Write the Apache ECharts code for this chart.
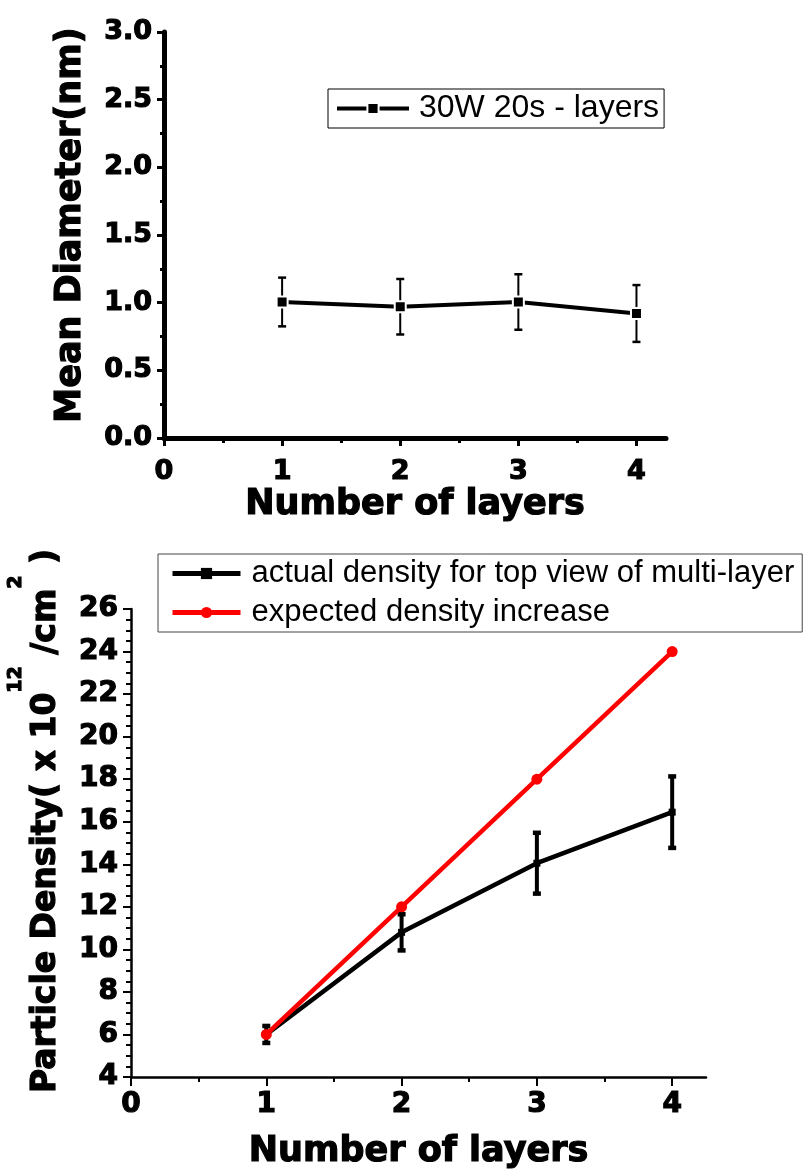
<!DOCTYPE html>
<html>
<head>
<meta charset="utf-8">
<script src="https://cdn.jsdelivr.net/npm/echarts@6/dist/echarts.min.js"></script>
<style>
  html, body { margin: 0; padding: 0; background: #fff; }
  #chart { width: 803px; height: 1173px; }
</style>
</head>
<body>
<div id="chart"></div>
<script>
// data
const layers = [1, 2, 3, 4];
const diameter = [1.005, 0.97, 1.005, 0.92];
const diameterErr = [0.18, 0.205, 0.205, 0.21];
const actualDensity = [6.0, 10.8, 14.05, 16.45];
const actualErr = [0.4, 0.85, 1.43, 1.68];
const expectedDensity = [6, 12, 18, 24];
const xTicks = [0, 1, 2, 3, 4];
const xMinorTicks = [0.5, 1.5, 2.5, 3.5];

const bold = 'DejaVu Sans';
const plain = 'Liberation Sans';
// heavy look like the original (Arial Black-ish)
const heavy = { color: '#000', fontFamily: bold, fontWeight: 'bold', textBorderColor: '#000', textBorderWidth: 1.2 };

function pairs(xs, ys) {
  return xs.map((x, i) => [x, ys[i]]);
}
function errData(xs, ys, es) {
  return xs.map((x, i) => [x, ys[i] - es[i], ys[i] + es[i]]);
}

// error bar drawer: vertical line + caps
function errorBars(capHalf, lw, capLw) {
  return function (params, api) {
    const x = api.value(0);
    const lo = api.coord([x, api.value(1)]);
    const hi = api.coord([x, api.value(2)]);
    const s = { stroke: '#000', lineWidth: lw };
    const c = { stroke: '#000', lineWidth: capLw };
    return {
      type: 'group',
      children: [
        { type: 'line', shape: { x1: lo[0], y1: lo[1], x2: hi[0], y2: hi[1] }, style: s },
        { type: 'line', shape: { x1: lo[0] - capHalf, y1: lo[1], x2: lo[0] + capHalf, y2: lo[1] }, style: c },
        { type: 'line', shape: { x1: hi[0] - capHalf, y1: hi[1], x2: hi[0] + capHalf, y2: hi[1] }, style: c }
      ]
    };
  };
}

const chart = echarts.init(document.getElementById('chart'));

const option = {
  animation: false,
  backgroundColor: '#fff',
  grid: [
    { left: 164, right: 137, top: 32, bottom: 735, outerBoundsMode: 'none' },
    { left: 131, right: 97, top: 609, bottom: 96, outerBoundsMode: 'none' }
  ],
  legend: [
    {
      data: ['30W 20s - layers'],
      left: 328, top: 89,
      padding: [2, 5, 2, 7],
      itemWidth: 72, itemHeight: 14,
      selectedMode: false,
      borderColor: '#000', borderWidth: 1,
      lineStyle: { width: 4 },
      textStyle: { fontFamily: plain, fontSize: 32, color: '#000', lineHeight: 35, padding: [0, 0, 0, 5] }
    },
    {
      data: ['actual density for top view of multi-layer', 'expected density increase'],
      orient: 'vertical',
      left: 158, top: 554,
      padding: [2, 8, 2, 12],
      itemGap: 4,
      itemWidth: 68, itemHeight: 14,
      selectedMode: false,
      borderColor: '#444', borderWidth: 1,
      lineStyle: { width: 5 },
      textStyle: { fontFamily: plain, fontSize: 31, color: '#000', lineHeight: 35, padding: [0, 0, 0, 6] }
    }
  ],
  xAxis: [
    {
      gridIndex: 0, type: 'value', min: 0, max: 4.25, position: 'bottom',
      axisLine: { show: true, onZero: false, lineStyle: { color: '#000', width: 5 } },
      axisTick: { show: true, customValues: xTicks, length: 8, lineStyle: { color: '#000', width: 3 } },
      axisLabel: Object.assign({ customValues: xTicks, fontSize: 27, margin: 20 }, heavy),
      splitLine: { show: false },
      name: 'Number of layers', nameLocation: 'middle', nameGap: 46,
      nameTextStyle: Object.assign({ fontSize: 35 }, heavy)
    },
    {
      gridIndex: 0, type: 'value', min: 0, max: 4.25, position: 'bottom',
      axisLine: { show: false, onZero: false },
      axisTick: { show: true, customValues: xMinorTicks, length: 5, lineStyle: { color: '#000', width: 3 } },
      axisLabel: { show: false },
      splitLine: { show: false }
    },
    {
      gridIndex: 1, type: 'value', min: 0, max: 4.25, position: 'bottom',
      axisLine: { show: true, onZero: false, lineStyle: { color: '#000', width: 2.5 } },
      axisTick: { show: true, customValues: xTicks, length: 9, lineStyle: { color: '#000', width: 2 } },
      axisLabel: Object.assign({ customValues: xTicks, fontSize: 28, margin: 14 }, heavy),
      splitLine: { show: false },
      name: 'Number of layers', nameLocation: 'middle', nameGap: 57,
      nameTextStyle: Object.assign({ fontSize: 35 }, heavy)
    },
    {
      gridIndex: 1, type: 'value', min: 0, max: 4.25, position: 'bottom',
      axisLine: { show: false, onZero: false },
      axisTick: { show: true, customValues: xMinorTicks, length: 5, lineStyle: { color: '#000', width: 2 } },
      axisLabel: { show: false },
      splitLine: { show: false }
    }
  ],
  yAxis: [
    {
      gridIndex: 0, type: 'value', min: 0, max: 3, interval: 0.5,
      axisLine: { show: true, onZero: false, lineStyle: { color: '#000', width: 5 } },
      axisTick: { show: true, length: 7, lineStyle: { color: '#000', width: 3 } },
      minorTick: { show: true, splitNumber: 2, length: 4, lineStyle: { color: '#000', width: 3 } },
      axisLabel: Object.assign({ fontSize: 27, margin: 12, formatter: v => v.toFixed(1) }, heavy),
      splitLine: { show: false },
      name: 'Mean Diameter(nm)', nameLocation: 'middle', nameGap: 76, nameRotate: 90,
      nameTextStyle: Object.assign({ fontSize: 35, padding: [0, 0, 0, 20] }, heavy)
    },
    {
      gridIndex: 1, type: 'value', min: 4, max: 26, interval: 2,
      axisLine: { show: true, onZero: false, lineStyle: { color: '#000', width: 2.5 } },
      axisTick: { show: true, length: 8, lineStyle: { color: '#000', width: 2 } },
      minorTick: { show: true, splitNumber: 4, length: 5, lineStyle: { color: '#000', width: 2 } },
      axisLabel: Object.assign({ fontSize: 28, margin: 13 }, heavy),
      splitLine: { show: false },
      name: '{m|Particle Density( x 10}{s|12}{m| /cm}{s|2}{m| )}',
      nameLocation: 'middle', nameGap: 68, nameRotate: 90,
      nameTextStyle: {
        color: '#000', padding: [0, 0, 0, 44],
        rich: {
          m: Object.assign({ fontSize: 33, lineHeight: 56, verticalAlign: 'bottom' }, heavy),
          s: Object.assign({ fontSize: 19, lineHeight: 22, verticalAlign: 'top', textBorderWidth: 0.8 }, heavy)
        }
      }
    }
  ],
  series: [
    {
      name: '30W 20s - layers', type: 'line',
      xAxisIndex: 0, yAxisIndex: 0,
      data: pairs(layers, diameter),
      symbol: 'rect', symbolSize: 11,
      lineStyle: { color: '#000', width: 4 },
      itemStyle: { color: '#000', borderColor: '#fff', borderWidth: 2 },
      z: 3
    },
    {
      type: 'custom', name: 'diam-err',
      xAxisIndex: 0, yAxisIndex: 0,
      data: errData(layers, diameter, diameterErr),
      encode: { x: 0, y: [1, 2] },
      renderItem: errorBars(4, 2, 2.5),
      z: 2
    },
    {
      name: 'actual density for top view of multi-layer', type: 'line',
      xAxisIndex: 2, yAxisIndex: 1,
      data: pairs(layers, actualDensity),
      symbol: 'rect', symbolSize: 7,
      lineStyle: { color: '#000', width: 4.5 },
      itemStyle: { color: '#000' },
      z: 2
    },
    {
      type: 'custom', name: 'dens-err',
      xAxisIndex: 2, yAxisIndex: 1,
      data: errData(layers, actualDensity, actualErr),
      encode: { x: 0, y: [1, 2] },
      renderItem: errorBars(4, 4, 4.5),
      z: 3
    },
    {
      name: 'expected density increase', type: 'line',
      xAxisIndex: 2, yAxisIndex: 1,
      data: pairs(layers, expectedDensity),
      symbol: 'circle', symbolSize: 11,
      lineStyle: { color: '#ff0000', width: 4.5 },
      itemStyle: { color: '#ff0000' },
      z: 4
    }
  ]
};

chart.setOption(option);
</script>
</body>
</html>
